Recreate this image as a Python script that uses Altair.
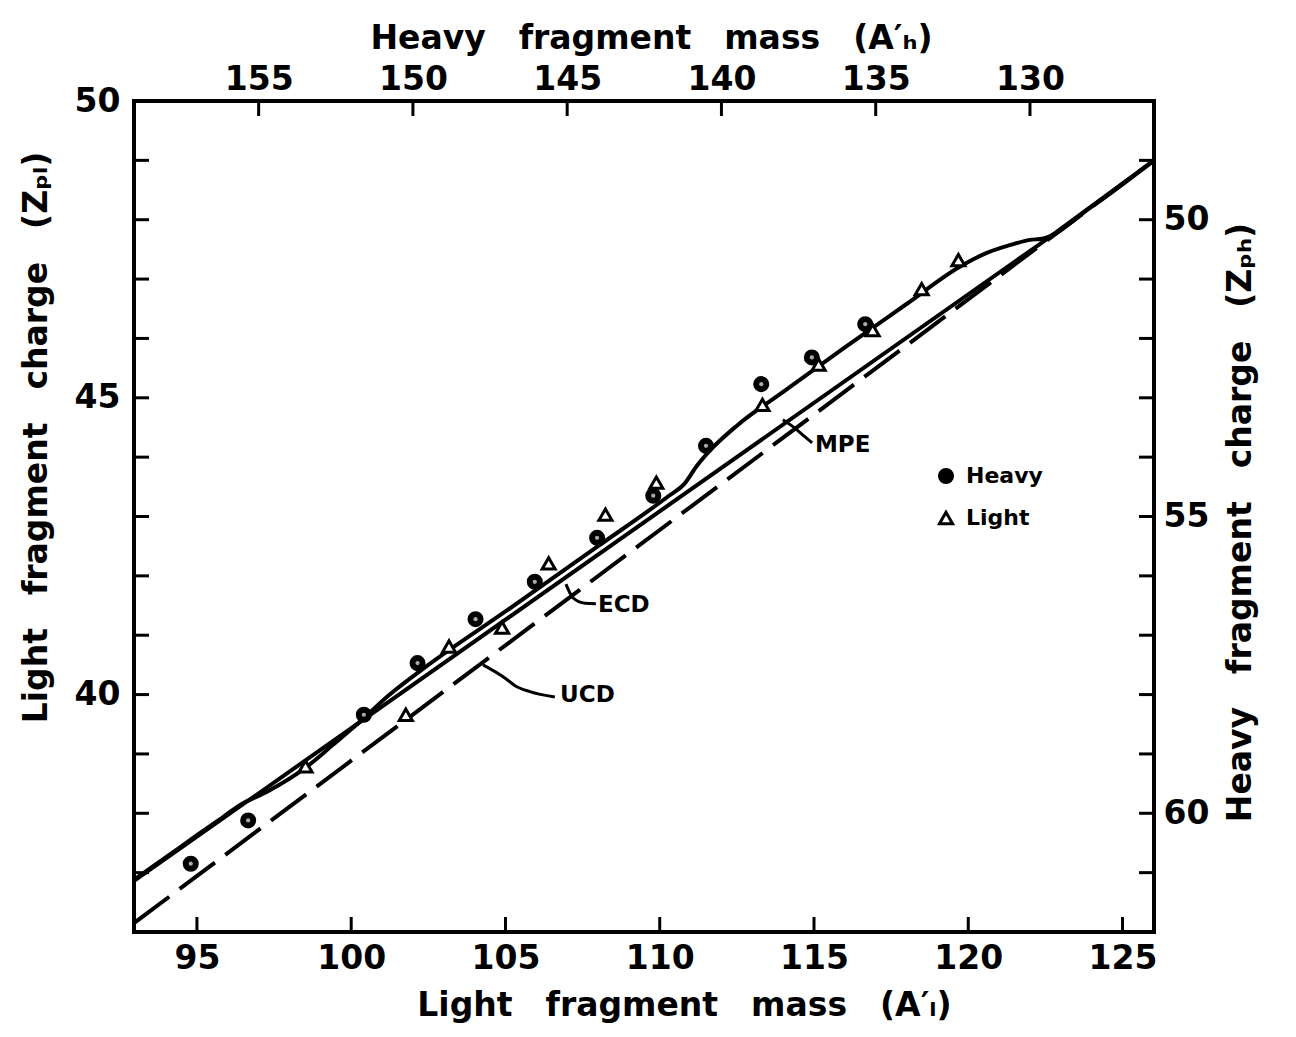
import altair as alt
import pandas as pd

# ---------------- data ----------------
bottom_ticks = [95, 100, 105, 110, 115, 120, 125]
top_ticks = [130, 135, 140, 145, 150, 155]
left_ticks = [37, 38, 39, 40, 41, 42, 43, 44, 45, 46, 47, 48, 49]
left_labels = [40, 45, 50]
right_ticks = [49, 50, 51, 52, 53, 54, 55, 56, 57, 58, 59, 60, 61]
right_labels = [50, 55, 60]

heavy_A = [94.8, 96.66, 100.41, 102.15, 104.03, 105.95, 107.97, 109.79, 111.5, 113.29, 114.93, 116.66]
heavy_Z = [37.15, 37.88, 39.66, 40.53, 41.27, 41.90, 42.64, 43.35, 44.19, 45.23, 45.68, 46.24]

light_A = [98.52, 101.77, 103.17, 104.89, 106.40, 108.24, 109.89, 113.33, 115.15, 116.9, 118.49, 119.68]
light_Z = [38.79, 39.66, 40.81, 41.13, 42.21, 43.03, 43.57, 44.88, 45.56, 46.14, 46.83, 47.32]

ucd_A = [92.96, 126.02]
ucd_Z = [36.15, 49.0]

ecd_A = [92.96, 122.4, 126.02]
ecd_Z = [36.86, 47.62, 49.0]

mpe_A = [92.96, 94.0, 95.0, 95.8, 96.4, 97.3, 98.5, 99.4, 100.3, 101.2, 102.5, 105.0, 108.0,
         110.3, 110.8, 111.2, 111.7, 112.5, 114.0, 116.0, 118.0, 119.7, 120.6, 121.4, 122.0,
         122.4, 124.0, 126.02]
mpe_Z = [36.88, 37.26, 37.63, 37.92, 38.14, 38.37, 38.76, 39.15, 39.55, 39.98, 40.50, 41.40, 42.50,
         43.35, 43.55, 43.85, 44.15, 44.53, 45.10, 45.85, 46.58, 47.20, 47.44, 47.58, 47.66,
         47.68, 48.22, 49.0]

curve_labels = ["MPE", "ECD", "UCD"]
curve_label_A = [115.03, 108.0, 106.77]
curve_label_Z = [44.2, 41.51, 39.99]

leader_mpe_A = [113.99, 114.38, 114.71, 114.94]
leader_mpe_Z = [44.63, 44.49, 44.34, 44.24]
leader_ecd_A = [106.96, 107.19, 107.58, 107.93]
leader_ecd_Z = [41.86, 41.63, 41.54, 41.53]
leader_ucd_A = [104.27, 104.98, 105.31, 105.79, 106.60]
leader_ucd_Z = [40.50, 40.28, 40.15, 40.05, 39.96]

# ---------------- frames ----------------
points_df = pd.DataFrame({
    "A": heavy_A + light_A,
    "Z": heavy_Z + light_Z,
    "kind": ["Heavy"] * len(heavy_A) + ["Light"] * len(light_A),
})
heavy_df = pd.DataFrame({"A": heavy_A, "Z": heavy_Z})
mpe_df = pd.DataFrame({"A": mpe_A, "Z": mpe_Z})
ecd_df = pd.DataFrame({"A": ecd_A, "Z": ecd_Z})
ucd_df = pd.DataFrame({"A": ucd_A, "Z": ucd_Z})
labels_df = pd.DataFrame({"A": curve_label_A, "Z": curve_label_Z, "text": curve_labels})
leader_df = pd.DataFrame({
    "A": leader_mpe_A + leader_ecd_A + leader_ucd_A,
    "Z": leader_mpe_Z + leader_ecd_Z + leader_ucd_Z,
    "which": ["MPE"] * len(leader_mpe_A) + ["ECD"] * len(leader_ecd_A) + ["UCD"] * len(leader_ucd_A),
    "order": list(range(len(leader_mpe_A))) + list(range(len(leader_ecd_A))) + list(range(len(leader_ucd_A))),
})
bottom_df = pd.DataFrame({"A": bottom_ticks})
left_df = pd.DataFrame({"Z": left_ticks})
top_df = pd.DataFrame({"Ah": top_ticks})
right_df = pd.DataFrame({"Zh": right_ticks})

# ---------------- styling ----------------
W, H = 1020, 831
FONT = "DejaVu Sans"
LBL = 33
TTL = 33
TICK = 15
SP = "\u2003"

xs = alt.Scale(domain=[92.96, 126.02], nice=False, zero=False)
ys = alt.Scale(domain=[36, 50], nice=False, zero=False)
xs_top = alt.Scale(domain=[125.98, 159.04], reverse=True, nice=False, zero=False)
ys_right = alt.Scale(domain=[48, 62], reverse=True, nice=False, zero=False)

common_axis = dict(ticks=False, domain=False, grid=False, labelFont=FONT, labelFontSize=LBL,
                   labelFontWeight="bold", labelColor="black", titleFont=FONT,
                   titleFontSize=TTL, titleFontWeight="bold", titleColor="black",
                   titleBaseline="alphabetic", titleAlign="center")

bottom_axis = alt.Axis(orient="bottom", values=bottom_ticks, format="d", labelPadding=10,
                       title=SP.join(["Light", "fragment", "mass", "(A\u2032\u2097)"]),
                       titleX=550, titleY=83, **common_axis)
left_axis = alt.Axis(orient="left", values=left_labels, format="d", labelPadding=14,
                     title=SP.join(["Light", "fragment", "charge", "(Z\u209a\u2097)"]),
                     titleAngle=270, titleX=-88, titleY=336, **common_axis)
top_axis = alt.Axis(orient="top", values=top_ticks, format="d", labelPadding=5,
                    title=SP.join(["Heavy", "fragment", "mass", "(A\u2032\u2095)"]),
                    titleX=517, titleY=-53, **common_axis)
right_axis = alt.Axis(orient="right", values=right_labels, format="d", labelPadding=9,
                      title=SP.join(["Heavy", "fragment", "charge", "(Z\u209a\u2095)"]),
                      titleAngle=270, titleX=96, titleY=421, **common_axis)

X = alt.X("A:Q", scale=xs, axis=None)
Y = alt.Y("Z:Q", scale=ys, axis=None)

# ---------------- data group (no axes) ----------------
mpe_line = alt.Chart(mpe_df).mark_line(color="black", strokeWidth=4, clip=True,
                                       strokeCap="round", strokeJoin="round",
                                       interpolate="monotone").encode(x=X, y=Y)
ecd_line = alt.Chart(ecd_df).mark_line(color="black", strokeWidth=4, clip=True,
                                       strokeCap="round").encode(x=X, y=Y)
ucd_line = alt.Chart(ucd_df).mark_line(color="black", strokeWidth=4, strokeDash=[44, 13],
                                       clip=True).encode(x=X, y=Y)
leaders = alt.Chart(leader_df).mark_line(color="black", strokeWidth=3,
                                         interpolate="monotone").encode(
    x=X, y=Y, detail="which:N", order="order:Q")

legend = alt.Legend(orient="none", legendX=801, legendY=364, title=None, labelFont=FONT,
                    labelFontSize=22, labelFontWeight="bold", labelColor="black",
                    symbolSize=170, symbolStrokeWidth=3, symbolStrokeColor="black",
                    rowPadding=17, labelOffset=9, padding=0)
kinds = ["Heavy", "Light"]
points = alt.Chart(points_df).mark_point(strokeWidth=3, size=170, opacity=1,
                                         fillOpacity=1).encode(
    x=X, y=Y,
    shape=alt.Shape("kind:N", scale=alt.Scale(domain=kinds, range=["circle", "triangle-up"]),
                    legend=legend),
    fill=alt.Fill("kind:N", scale=alt.Scale(domain=kinds, range=["black", "white"]),
                  legend=legend),
    stroke=alt.Stroke("kind:N", scale=alt.Scale(domain=kinds, range=["black", "black"]),
                      legend=legend),
)
heavy_dots = alt.Chart(heavy_df).mark_point(filled=True, color="#aaaaaa", size=18,
                                            opacity=1).encode(x=X, y=Y)
texts = alt.Chart(labels_df).mark_text(font=FONT, fontSize=23, fontWeight="bold", color="black",
                                       align="left", baseline="middle").encode(
    x=X, y=Y, text="text:N")

data_group = alt.layer(ecd_line, mpe_line, ucd_line, leaders, points, heavy_dots, texts)

# ---------------- bottom / left axes group ----------------
bottom_rule = alt.Chart(bottom_df).mark_rule(color="black", strokeWidth=3).encode(
    x=alt.X("A:Q", scale=xs, axis=bottom_axis),
    y=alt.value(H), y2=alt.value(H - TICK),
)
left_rule = alt.Chart(left_df).mark_rule(color="black", strokeWidth=3).encode(
    y=alt.Y("Z:Q", scale=ys, axis=left_axis),
    x=alt.value(0), x2=alt.value(TICK),
)
bl_group = alt.layer(bottom_rule, left_rule)

# ---------------- top / right axes group ----------------
top_rule = alt.Chart(top_df).mark_rule(color="black", strokeWidth=3).encode(
    x=alt.X("Ah:Q", scale=xs_top, axis=top_axis),
    y=alt.value(0), y2=alt.value(TICK),
)
right_rule = alt.Chart(right_df).mark_rule(color="black", strokeWidth=3).encode(
    y=alt.Y("Zh:Q", scale=ys_right, axis=right_axis),
    x=alt.value(W - TICK), x2=alt.value(W),
)
tr_group = alt.layer(top_rule, right_rule)

chart = alt.layer(data_group, bl_group, tr_group).resolve_scale(
    x="independent", y="independent").properties(
    width=W, height=H, autosize="none",
    padding={"left": 134, "top": 101, "right": 142, "bottom": 105},
    background="white",
).configure_view(stroke="black", strokeWidth=4)

chart.save("out.html", embed_options={"renderer": "svg", "actions": False})
